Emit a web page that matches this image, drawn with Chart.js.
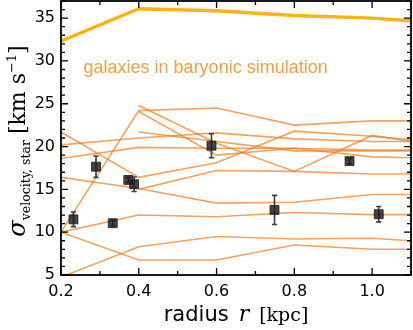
<!DOCTYPE html>
<html><head><meta charset="utf-8">
<script src="https://cdn.jsdelivr.net/npm/chart.js@4/dist/chart.umd.min.js"></script>
<style>html,body{margin:0;padding:0;background:#fff;}#wrap{width:413px;height:330px;}</style>
</head><body><div id="wrap"><canvas id="c" width="413" height="330"></canvas></div>
<script>
// ---- data ----
const radiusKpc = [0.2, 0.4, 0.6, 0.8, 1.0, 1.1];
const simMassive = [32.3, 36.1, 35.85, 35.3, 35.0, 34.7];
const simGal1 = [10.0, 24.2, 24.5, 22.5, 23.0, 23.0];
const simGal2 = [null, 24.8, 20.4, 17.1, 21.3, 20.6];
const simGal3 = [null, 24.1, 19.0, 19.8, 18.8, 18.7];
const simGal4 = [null, 21.7, 20.6, 19.5, 19.5, 19.5];
const simGal5 = [20.2, 21.0, 21.6, 20.9, 20.6, 20.6];
const simGal6 = [18.6, 19.9, 19.8, 19.8, 19.6, 19.6];
const simGal7 = [21.7, 16.4, 18.1, 21.8, 21.2, 20.8];
const simGal8 = [null, 15.0, 17.2, 17.1, 16.8, 16.8];
const simGal9 = [16.4, 15.1, 13.4, 13.5, 14.4, 14.4];
const simGal10 = [10.0, 12.0, 11.8, 12.3, 12.05, 12.05];
const simGal11 = [4.75, 8.3, 9.5, 9.2, 9.3, 9.0];
const simGal12 = [10.0, 6.75, 6.75, 8.5, 8.0, 8.0];
const obsRadius = [0.232, 0.29, 0.333, 0.373, 0.388, 0.587, 0.749, 0.942, 1.017];
const obsSigma  = [11.5, 17.65, 11.05, 16.1, 15.6, 20.1, 12.6, 18.3, 12.1];
const obsError  = [0.85, 1.25, 0.3, 0.3, 0.85, 1.4, 1.7, 0.3, 0.9];
const xTickValues = [0.2, 0.4, 0.6, 0.8, 1.0];
const xMinorValues = [0.3, 0.5, 0.7, 0.9, 1.1];
const yTickValues = [5, 10, 15, 20, 25, 30, 35];
const annotationText = 'galaxies in baryonic simulation';

// ---- build ----
const thinLines = [simGal1, simGal2, simGal3, simGal4, simGal5, simGal6, simGal7, simGal8, simGal9, simGal10, simGal11, simGal12];
const toPts = arr => radiusKpc.map((x, i) => ({x: x, y: arr[i]}));
const THIN = 'rgba(238,128,30,0.72)';
const datasets = [];
datasets.push({
  label: 'observed', data: obsRadius.map((x, i) => ({x: x, y: obsSigma[i]})),
  showLine: false, pointStyle: 'rect', pointRadius: 6.3, pointHoverRadius: 6.3,
  pointBackgroundColor: 'rgba(28,28,28,0.82)', pointBorderColor: 'rgba(28,28,28,0.82)', pointBorderWidth: 1
});
datasets.push({label: 'massive', data: toPts(simMassive), borderColor: 'rgb(255,178,18)', borderWidth: 3.5, pointRadius: 0, tension: 0});
thinLines.forEach((arr, i) => datasets.push({label: 'sim' + i, data: toPts(arr), borderColor: THIN, borderWidth: 1.6, pointRadius: 0, tension: 0, spanGaps: false}));

function drawRuns(ctx, runs, cx, baseY) {
  let total = 0;
  runs.forEach(r => { ctx.font = r.f; r.w = r.t ? ctx.measureText(r.t).width : 0; total += r.w + (r.gap || 0); });
  let x = cx - total / 2;
  runs.forEach(r => { ctx.font = r.f; if (r.t) ctx.fillText(r.t, x, baseY + (r.dy || 0)); x += r.w + (r.gap || 0); });
}

const decor = {
  id: 'decor',
  beforeDatasetDraw(chart, args) {
    if (args.index !== 0) return;
    const {ctx, scales: {x, y}} = chart;
    ctx.save();
    ctx.strokeStyle = 'rgba(28,28,28,0.85)'; ctx.lineWidth = 1.6;
    obsRadius.forEach((r, i) => {
      const px = x.getPixelForValue(r);
      const y1 = y.getPixelForValue(obsSigma[i] + obsError[i]);
      const y2 = y.getPixelForValue(obsSigma[i] - obsError[i]);
      ctx.beginPath();
      ctx.moveTo(px, y1); ctx.lineTo(px, y2);
      ctx.moveTo(px - 2.6, y1); ctx.lineTo(px + 2.6, y1);
      ctx.moveTo(px - 2.6, y2); ctx.lineTo(px + 2.6, y2);
      ctx.stroke();
    });
    ctx.restore();
  },
  afterDraw(chart) {
    const {ctx, chartArea: a, scales: {x, y}} = chart;
    ctx.save();
    ctx.strokeStyle = '#000';
    ctx.lineWidth = 1.3;
    const tick = (px, len, horiz) => {
      ctx.beginPath();
      if (horiz) { ctx.moveTo(px, a.bottom); ctx.lineTo(px, a.bottom - len); ctx.moveTo(px, a.top); ctx.lineTo(px, a.top + len); }
      else { ctx.moveTo(a.left, px); ctx.lineTo(a.left + len, px); ctx.moveTo(a.right, px); ctx.lineTo(a.right - len, px); }
      ctx.stroke();
    };
    xTickValues.forEach(v => tick(x.getPixelForValue(v), 7, true));
    xMinorValues.forEach(v => tick(x.getPixelForValue(v), 4, true));
    for (let v = y.min; v <= y.max; v++) {
      const major = yTickValues.includes(v);
      tick(y.getPixelForValue(v), major ? 7 : 4, false);
    }
    ctx.lineWidth = 1.8;
    ctx.strokeRect(a.left, a.top, a.right - a.left, a.bottom - a.top);
    ctx.fillStyle = 'rgb(246,158,66)';
    ctx.font = '18px "Liberation Sans"';
    ctx.textBaseline = 'alphabetic'; ctx.textAlign = 'left';
    ctx.fillText(annotationText, x.getPixelForValue(0.258), y.getPixelForValue(28.63));
    ctx.fillStyle = '#000';
    drawRuns(ctx, [
      {t: 'radius', f: '21px "DejaVu Sans"', gap: 10},
      {t: 'r', f: 'italic 22px "DejaVu Serif"', gap: 10},
      {t: '[kpc]', f: '19px "DejaVu Serif"'}
    ], (a.left + a.right) / 2, 320.5);
    ctx.translate(25, 141);
    ctx.rotate(-Math.PI / 2);
    drawRuns(ctx, [
      {t: 'σ', f: 'italic 24px "DejaVu Serif"', gap: 0},
      {t: 'velocity, star', f: '12.5px "DejaVu Serif"', dy: 4.5, gap: 6},
      {t: '[km s', f: '22px "DejaVu Serif"', gap: 0},
      {t: '−1', f: '13px "DejaVu Serif"', dy: -9, gap: 0},
      {t: ']', f: '22px "DejaVu Serif"'}
    ], 0, 0);
    ctx.restore();
  }
};

const noPad = s => { s.paddingTop = 0; s.paddingBottom = 0; s.paddingLeft = 0; s.paddingRight = 0; };

new Chart(document.getElementById('c'), {
  type: 'line',
  data: {datasets: datasets},
  options: {
    responsive: false, animation: false, devicePixelRatio: 1,
    layout: {autoPadding: false, padding: {left: 0, right: 2, top: 1, bottom: 0}},
    plugins: {legend: {display: false}, tooltip: {enabled: false}},
    scales: {
      x: {
        type: 'linear', min: 0.2, max: 1.1,
        grid: {display: false, drawTicks: false}, border: {display: false},
        afterBuildTicks: s => { s.ticks = xTickValues.map(v => ({value: v})); },
        afterFit: s => { s.height = 55; noPad(s); },
        ticks: {color: '#000', font: {family: 'DejaVu Sans', size: 16}, padding: 7, maxRotation: 0,
                callback: v => v.toFixed(1)}
      },
      y: {
        type: 'linear', min: 5, max: 37,
        grid: {display: false, drawTicks: false}, border: {display: false},
        afterBuildTicks: s => { s.ticks = yTickValues.map(v => ({value: v})); },
        afterFit: s => { s.width = 61; noPad(s); },
        ticks: {color: '#000', font: {family: 'DejaVu Sans', size: 16}, padding: 6,
                callback: v => String(v)}
      }
    }
  },
  plugins: [decor]
});
</script></body></html>
